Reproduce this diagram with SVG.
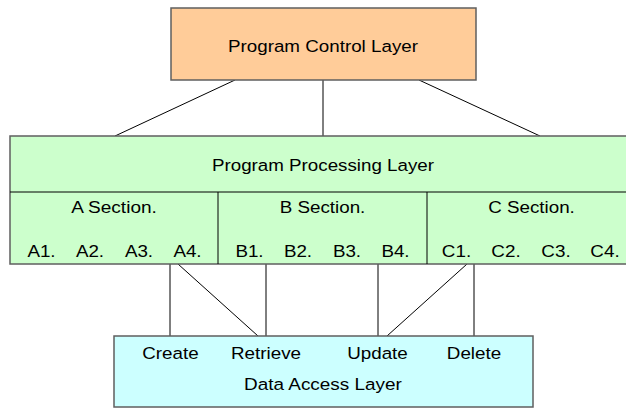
<svg xmlns="http://www.w3.org/2000/svg" width="626" height="409" viewBox="0 0 626 409">
  <style>
    .box { stroke: #5f5f5f; stroke-width: 1.5; }
    .div { stroke: #000; stroke-width: 1; fill: none; }
    .conn line { stroke: #000; stroke-width: 1; }
    text { font-family: "Liberation Sans", Arial, sans-serif; font-size: 17.4px; fill: #000; text-anchor: middle; }
  </style>
  <rect width="626" height="409" fill="#fff"/>

  <!-- connectors -->
  <g id="connectors" class="conn">
    <line x1="235" y1="80" x2="115" y2="136"/>
    <line x1="323" y1="80" x2="323" y2="136"/>
    <line x1="419" y1="80" x2="540" y2="136"/>
    <line x1="170" y1="264" x2="170" y2="336"/>
    <line x1="178" y1="264" x2="258" y2="336"/>
    <line x1="266" y1="264" x2="266" y2="336"/>
    <line x1="378" y1="264" x2="378" y2="336"/>
    <line x1="467" y1="264" x2="387" y2="336"/>
    <line x1="474" y1="264" x2="474" y2="336"/>
  </g>

  <!-- top layer -->
  <g id="program-control">
    <rect class="box" x="171" y="8" width="305" height="72" fill="#ffcc99"/>
    <text x="323" y="52" textLength="190" lengthAdjust="spacingAndGlyphs">Program Control Layer</text>
  </g>

  <!-- middle layer with three sections -->
  <g id="program-processing">
    <rect class="box" x="10" y="136" width="626" height="128" fill="#ccffcc"/>
    <line class="div" x1="10" y1="192" x2="636" y2="192"/>
    <line class="div" x1="218" y1="192" x2="218" y2="264"/>
    <line class="div" x1="427" y1="192" x2="427" y2="264"/>
    <text x="323" y="171" textLength="222" lengthAdjust="spacingAndGlyphs">Program Processing Layer</text>
  </g>
  <g id="section-a">
    <text x="114" y="213" textLength="85.7" lengthAdjust="spacingAndGlyphs">A Section.</text>
    <text x="41.5" y="257" textLength="28.2" lengthAdjust="spacingAndGlyphs">A1.</text>
    <text x="90" y="257" textLength="28.2" lengthAdjust="spacingAndGlyphs">A2.</text>
    <text x="139" y="257" textLength="28.2" lengthAdjust="spacingAndGlyphs">A3.</text>
    <text x="187.5" y="257" textLength="28.2" lengthAdjust="spacingAndGlyphs">A4.</text>
  </g>
  <g id="section-b">
    <text x="322.5" y="213" textLength="85.7" lengthAdjust="spacingAndGlyphs">B Section.</text>
    <text x="249.5" y="257" textLength="28.2" lengthAdjust="spacingAndGlyphs">B1.</text>
    <text x="298" y="257" textLength="28.2" lengthAdjust="spacingAndGlyphs">B2.</text>
    <text x="347" y="257" textLength="28.2" lengthAdjust="spacingAndGlyphs">B3.</text>
    <text x="395.5" y="257" textLength="28.2" lengthAdjust="spacingAndGlyphs">B4.</text>
  </g>
  <g id="section-c">
    <text x="531.5" y="213" textLength="86.7" lengthAdjust="spacingAndGlyphs">C Section.</text>
    <text x="456.5" y="257" textLength="29.3" lengthAdjust="spacingAndGlyphs">C1.</text>
    <text x="506" y="257" textLength="29.3" lengthAdjust="spacingAndGlyphs">C2.</text>
    <text x="556" y="257" textLength="29.3" lengthAdjust="spacingAndGlyphs">C3.</text>
    <text x="605" y="257" textLength="29.3" lengthAdjust="spacingAndGlyphs">C4.</text>
  </g>

  <!-- bottom layer -->
  <g id="data-access">
    <rect class="box" x="114" y="336" width="419" height="71" fill="#ccffff"/>
    <text x="170.5" y="359" textLength="56.4" lengthAdjust="spacingAndGlyphs">Create</text>
    <text x="266" y="359" textLength="70" lengthAdjust="spacingAndGlyphs">Retrieve</text>
    <text x="377.5" y="359" textLength="60.6" lengthAdjust="spacingAndGlyphs">Update</text>
    <text x="474" y="359" textLength="54.3" lengthAdjust="spacingAndGlyphs">Delete</text>
    <text x="323" y="390" textLength="157.8" lengthAdjust="spacingAndGlyphs">Data Access Layer</text>
  </g>
</svg>
